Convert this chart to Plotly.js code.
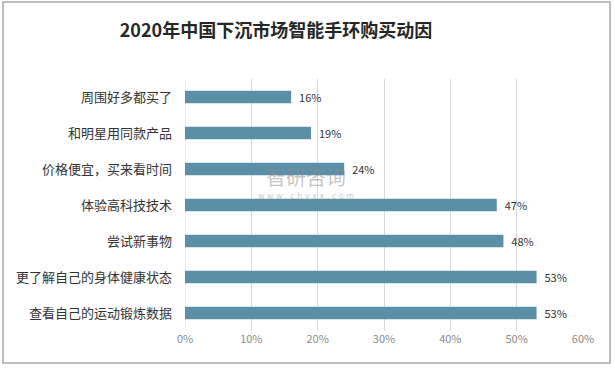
<!DOCTYPE html>
<html>
<head>
<meta charset="utf-8">
<script src="https://cdn.plot.ly/plotly-3.0.1.min.js"></script>
<style>html,body{margin:0;padding:0;background:#fff;}#chart{width:615px;height:368px;}</style>
</head>
<body>
<div id="chart"></div>
<script>
const categories = ["周围好多都买了", "和明星用同款产品", "价格便宜，买来看时间", "体验高科技技术", "尝试新事物", "更了解自己的身体健康状态", "查看自己的运动锻炼数据"];
const values = [16, 19, 24, 47, 48, 53, 53];
const tickValues = [0, 10, 20, 30, 40, 50, 60];
const tickLabels = ["0%", "10%", "20%", "30%", "40%", "50%", "60%"];

const cjk = '"Noto Sans CJK SC", "Microsoft YaHei", sans-serif';

const trace = {
  type: 'bar',
  orientation: 'h',
  y: categories,
  x: values,
  marker: {color: 'rgb(91,143,166)'},
  text: values.map(v => '  ' + v + '%'),
  textposition: 'outside',
  constraintext: 'none',
  textfont: {family: cjk, size: 11, color: '#333333'},
  cliponaxis: false,
  hoverinfo: 'none'
};

const layout = {
  width: 615, height: 368,
  margin: {l: 185, r: 32, t: 79, b: 37},
  paper_bgcolor: '#ffffff',
  plot_bgcolor: '#ffffff',
  bargap: 0.65,
  showlegend: false,
  title: {
    text: '<b>2020年中国下沉市场智能手环购买动因</b>',
    font: {family: cjk, size: 18, color: '#262626'},
    x: 276/615, xanchor: 'center', xref: 'container',
    y: 1 - 31/368, yanchor: 'middle', yref: 'container'
  },
  xaxis: {
    range: [0, 60],
    tickvals: tickValues,
    ticktext: tickLabels,
    showgrid: true, gridcolor: '#d9d9d9', gridwidth: 1,
    zeroline: false, showline: false,
    tickfont: {family: cjk, size: 11, color: '#8c8c8c'},
    ticks: '', ticklen: 0
  },
  yaxis: {
    autorange: 'reversed',
    type: 'category',
    showgrid: false, zeroline: false, showline: false,
    ticks: '', ticklabelstandoff: 12,
    tickfont: {family: cjk, size: 13, color: '#333333'}
  },
  shapes: [{
    type: 'rect', xref: 'paper', yref: 'paper',
    x0: (3 - 185) / 398, x1: (610 - 185) / 398,
    y0: (331 - 363) / 252, y1: (331 - 2) / 252,
    line: {color: '#a6a6a6', width: 1.5}, fillcolor: 'rgba(0,0,0,0)'
  }, {
    type: 'line', xref: 'x', yref: 'paper', x0: 0, x1: 0, y0: 0, y1: 1,
    line: {color: '#d9d9d9', width: 1}, layer: 'below'
  }],
  annotations: [{
    text: '智研咨询', xref: 'paper', yref: 'paper',
    x: (306 - 185) / 398, y: (331 - 176) / 252,
    xanchor: 'center', yanchor: 'middle',
    showarrow: false, borderpad: 0,
    font: {family: cjk, size: 20, color: 'rgba(140,140,140,0.5)'}
  }, {
    text: 'w w w . c h y x x . c o m', xref: 'paper', yref: 'paper',
    x: (306 - 185) / 398, y: (331 - 196) / 252,
    xanchor: 'center', yanchor: 'middle',
    showarrow: false, borderpad: 0,
    font: {family: 'DejaVu Sans, sans-serif', size: 8, color: 'rgba(150,150,150,0.5)'}
  }]
};

Plotly.newPlot('chart', [trace], layout, {displayModeBar: false, staticPlot: true});
</script>
</body>
</html>
